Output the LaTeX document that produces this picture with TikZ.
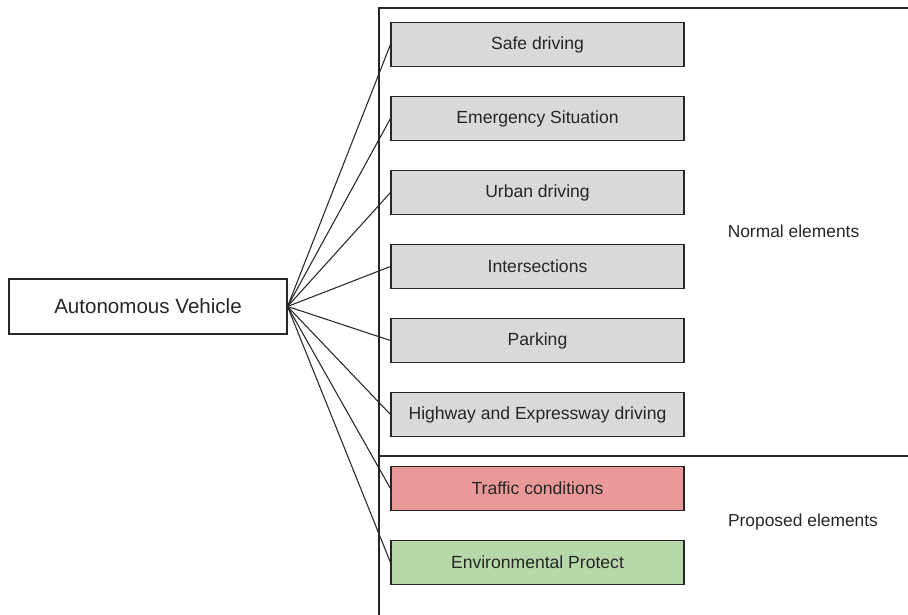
\documentclass[tikz,border=0pt]{standalone}
\usepackage{fontspec}
\setmainfont{Liberation Sans}
\usepackage{tikz}
\usetikzlibrary{arrows,shapes}

\definecolor{elemgray}{HTML}{D9D9D9}
\definecolor{elemred}{HTML}{EA9999}
\definecolor{elemgreen}{HTML}{B6D7A8}

\begin{document}
\begin{tikzpicture}[auto,line width=0.6pt]
  \tikzstyle{elem}=[draw=black!85,fill=elemgray,text=black!85,minimum width=5.86cm,minimum height=0.88cm,inner sep=0pt,font=\fontsize{10}{12}\selectfont]
  \tikzstyle{root}=[draw=black!85,fill=white,text=black!85,minimum width=5.56cm,minimum height=1.1cm,inner sep=0pt,font=\fontsize{11.7}{14}\selectfont]
  \tikzstyle{group}=[text=black!85,font=\fontsize{9.9}{12}\selectfont]
  \useasboundingbox (0,0) rectangle (18.16,12.3);

  % frame around the elements
  \draw[black!85] (18.16,12.14) -- (7.58,12.14) -- (7.58,0);
  \draw[black!85] (7.58,3.18) -- (18.16,3.18);

  \node[root] at ( 2.96, 6.17) (AV) {Autonomous Vehicle};

  \node[elem] at (10.75,11.41) (S) {Safe driving};
  \node[elem] at (10.75, 9.93) (E) {Emergency Situation};
  \node[elem] at (10.75, 8.45) (U) {Urban driving};
  \node[elem] at (10.75, 6.97) (I) {Intersections};
  \node[elem] at (10.75, 5.49) (P) {Parking};
  \node[elem] at (10.75, 4.01) (H) {Highway and Expressway driving};
  \node[elem,fill=elemred] at (10.75, 2.53) (T) {Traffic conditions};
  \node[elem,fill=elemgreen] at (10.75, 1.05) (N) {Environmental Protect};

  \node[group] at (15.87, 7.68) (normal) {Normal elements};
  \node[group] at (16.06, 1.86) (proposed) {Proposed elements};

  \path[draw=black!85] (AV.east) edge (S.west)
        (AV.east) edge (E.west)
        (AV.east) edge (U.west)
        (AV.east) edge (I.west)
        (AV.east) edge (P.west)
        (AV.east) edge (H.west)
        (AV.east) edge (T.west)
        (AV.east) edge (N.west);
\end{tikzpicture}
\end{document}
